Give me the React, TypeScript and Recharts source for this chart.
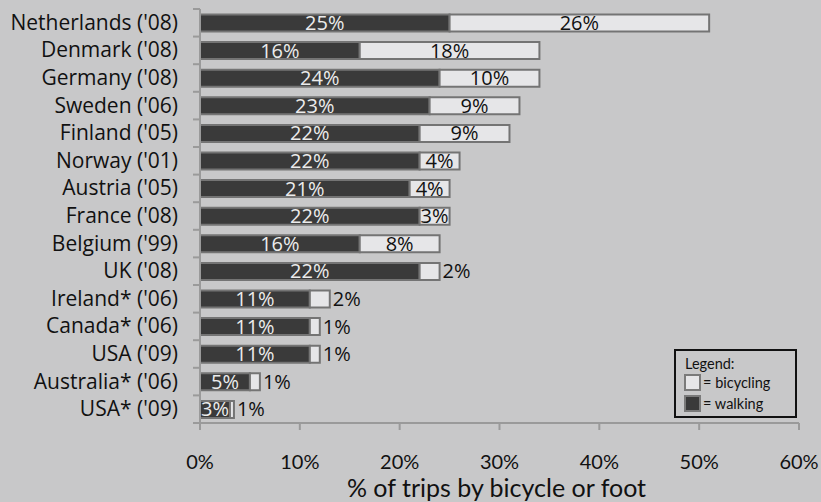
import React from 'react';
import { BarChart, Bar, XAxis, YAxis, LabelList } from 'recharts';

const countries = [
  "Netherlands ('08)", "Denmark ('08)", "Germany ('08)", "Sweden ('06)", "Finland ('05)",
  "Norway ('01)", "Austria ('05)", "France ('08)", "Belgium ('99)", "UK ('08)",
  "Ireland* ('06)", "Canada* ('06)", "USA ('09)", "Australia* ('06)", "USA* ('09)",
];
const walking = [25, 16, 24, 23, 22, 22, 21, 22, 16, 22, 11, 11, 11, 5, 3];
const bicycling = [26, 18, 10, 9, 9, 4, 4, 3, 8, 2, 2, 1, 1, 1, 0.4];
const walkingLabels = ['25%', '16%', '24%', '23%', '22%', '22%', '21%', '22%', '16%', '22%', '11%', '11%', '11%', '5%', '3%'];
const bicyclingLabels = ['26%', '18%', '10%', '9%', '9%', '4%', '4%', '3%', '8%', '2%', '2%', '1%', '1%', '1%', '1%'];
const xTicks = [0, 10, 20, 30, 40, 50, 60];
const axisTitle = '% of trips by bicycle or foot';
const legendTitle = 'Legend:';
const legendItems = [
  { name: 'bicycling', color: '#e6e6e8' },
  { name: 'walking', color: '#3a3a3a' },
];

const data = countries.map((c, i) => ({
  country: c,
  walking: walking[i],
  bicycling: bicycling[i],
  wl: walkingLabels[i],
  bl: bicyclingLabels[i],
}));

const BG = '#c8c8c9';
const LABEL_FONT = '"Open Sans", sans-serif';
const AXIS_FONT = 'Lato, sans-serif';

const YTick = (props: any) => {
  const { x, y, payload } = props;
  const half = payload && payload.offset ? payload.offset : 13.8;
  const ax = x + 8;
  return (
    <g>
      <line x1={ax - 7} x2={ax} y1={y - half} y2={y - half} stroke="#9a9a9a" strokeWidth={2} />
      {payload.index === countries.length - 1 && (
        <line x1={ax - 7} x2={ax} y1={y + half} y2={y + half} stroke="#9a9a9a" strokeWidth={2} />
      )}
      <text x={ax - 22} y={y} dy={7} textAnchor="end" fill="#111" fontFamily={LABEL_FONT} fontSize={21}>
        {payload.value}
      </text>
    </g>
  );
};

const XTick = (props: any) => {
  const { x, y, payload } = props;
  return (
    <text x={x} y={y + 37} textAnchor="middle" fill="#111" fontFamily={AXIS_FONT} fontSize={20}>
      {payload.value}%
    </text>
  );
};

const WalkLabel = (props: any) => {
  const { x, y, width, height, value } = props;
  return (
    <text x={x + width / 2} y={y + height / 2} dy={7} textAnchor="middle" fill="#ececec" fontFamily={LABEL_FONT} fontSize={20}>
      {value}
    </text>
  );
};

const BikeLabel = (props: any) => {
  const { x, y, width, height, value } = props;
  const inside = width >= 28;
  return (
    <text
      x={inside ? x + width / 2 : x + width + 3}
      y={y + height / 2}
      dy={7}
      textAnchor={inside ? 'middle' : 'start'}
      fill="#111"
      fontFamily={LABEL_FONT}
      fontSize={20}
    >
      {value}
    </text>
  );
};

const LegendBox = () => (
  <div
    style={{
      position: 'absolute',
      left: 674,
      top: 349,
      width: 119,
      height: 65,
      border: '2px solid #111',
      fontFamily: AXIS_FONT,
      fontSize: 14.5,
      color: '#111',
    }}
  >
    <div style={{ marginLeft: 9, marginTop: 5, lineHeight: '16px' }}>{legendTitle}</div>
    {legendItems.map((it) => (
      <div key={it.name} style={{ display: 'flex', alignItems: 'center', marginLeft: 8, height: 21 }}>
        <span
          style={{
            display: 'inline-block',
            width: 13,
            height: 13,
            background: it.color,
            border: '2px solid #7a7a7a',
            marginRight: 2,
          }}
        />
        <span>= {it.name}</span>
      </div>
    ))}
  </div>
);

export default function App() {
  return (
    <div style={{ position: 'absolute', left: 0, top: 0, width: 821, height: 502, background: BG, overflow: 'hidden' }}>
      <BarChart
        width={821}
        height={502}
        data={data}
        layout="vertical"
        margin={{ top: 9, right: 22, bottom: 0, left: 0 }}
        barCategoryGap="20%"
      >
        <XAxis
          type="number"
          domain={[0, 60]}
          ticks={xTicks}
          height={79}
          axisLine={{ stroke: '#9a9a9a', strokeWidth: 2 }}
          tickLine={{ stroke: '#9a9a9a', strokeWidth: 2 }}
          tickSize={7}
          tick={<XTick />}
          label={(p: any) => {
            const vb = p.viewBox || {};
            return (
              <text
                x={vb.x + vb.width / 2 - 3}
                y={497}
                textAnchor="middle"
                fill="#111"
                fontFamily={AXIS_FONT}
                fontSize={25}
              >
                {axisTitle}
              </text>
            );
          }}
        />
        <YAxis
          type="category"
          dataKey="country"
          width={200}
          axisLine={{ stroke: '#9a9a9a', strokeWidth: 2 }}
          tickLine={false}
          tick={<YTick />}
          interval={0}
        />
        <Bar dataKey="walking" stackId="a" fill="#3a3a3a" stroke="#747474" strokeWidth={2} isAnimationActive={false}>
          <LabelList dataKey="wl" content={<WalkLabel />} />
        </Bar>
        <Bar dataKey="bicycling" stackId="a" fill="#e6e6e8" stroke="#747474" strokeWidth={2} isAnimationActive={false}>
          <LabelList dataKey="bl" content={<BikeLabel />} />
        </Bar>
      </BarChart>
      <LegendBox />
    </div>
  );
}
